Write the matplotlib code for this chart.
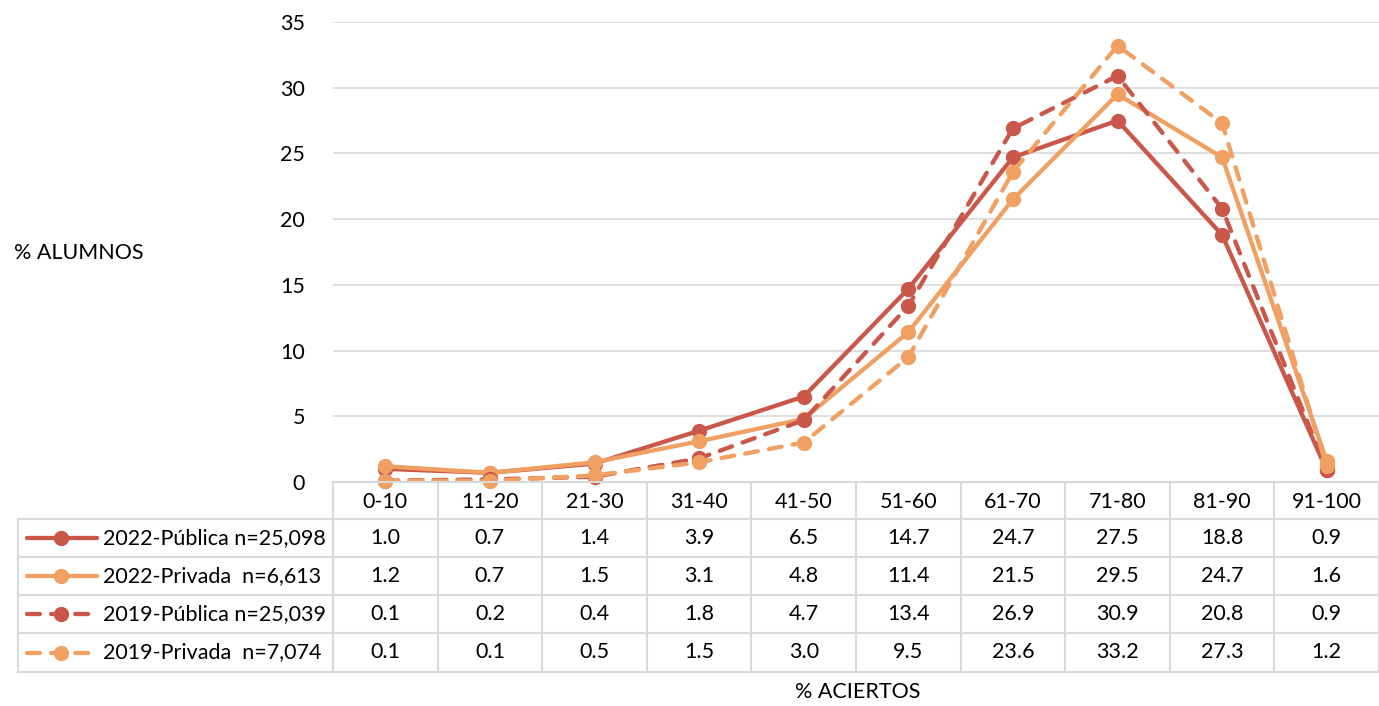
import matplotlib
matplotlib.use("Agg")
import matplotlib.pyplot as plt
from matplotlib.lines import Line2D
from matplotlib.transforms import blended_transform_factory

plt.rcParams["font.family"] = ["Lato", "DejaVu Sans"]

categorias = ["0-10", "11-20", "21-30", "31-40", "41-50",
              "51-60", "61-70", "71-80", "81-90", "91-100"]
series = [
    "2022-Pública n=25,098",
    "2022-Privada  n=6,613",
    "2019-Pública n=25,039",
    "2019-Privada  n=7,074",
]
pub_2022 = [1.0, 0.7, 1.4, 3.9, 6.5, 14.7, 24.7, 27.5, 18.8, 0.9]
priv_2022 = [1.2, 0.7, 1.5, 3.1, 4.8, 11.4, 21.5, 29.5, 24.7, 1.6]
pub_2019 = [0.1, 0.2, 0.4, 1.8, 4.7, 13.4, 26.9, 30.9, 20.8, 0.9]
priv_2019 = [0.1, 0.1, 0.5, 1.5, 3.0, 9.5, 23.6, 33.2, 27.3, 1.2]
valores = [pub_2022, priv_2022, pub_2019, priv_2019]
yticks = [0, 5, 10, 15, 20, 25, 30, 35]

ROJO = "#C9574A"
NARANJA = "#F0A062"
GRIS = "#D9D9D9"
DASH = (0, (3.0, 2.6))
estilos = [
    dict(color=ROJO, ls="-"),
    dict(color=NARANJA, ls="-"),
    dict(color=ROJO, ls=DASH),
    dict(color=NARANJA, ls=DASH),
]

W, H = 1379, 706
fig = plt.figure(figsize=(W / 100, H / 100), dpi=100)

# area de trazado en pixeles
x0, x1 = 333, 1379
y_top, y_cero = 22, 482
ax = fig.add_axes([x0 / W, 1 - y_cero / H, (x1 - x0) / W, (y_cero - y_top) / H])

fs = 15.5
xs = list(range(len(categorias)))
for vals, est in zip(valores, estilos):
    ax.plot(xs, vals, color=est["color"], ls=est["ls"], lw=3.1, marker="o",
            markersize=10, dash_capstyle="round", solid_capstyle="round",
            clip_on=False, zorder=3)

ax.set_xlim(-0.5, len(categorias) - 0.5)
ax.set_ylim(0, 35)
ax.set_yticks(yticks)
ax.set_xticks([])
ax.tick_params(axis="y", length=0, pad=20, labelsize=fs)
ax.grid(axis="y", color=GRIS, lw=1.2)
ax.set_axisbelow(True)
for s in ax.spines.values():
    s.set_visible(False)

fy = lambda py: 1 - py / H  # pixel -> coordenada de figura
fx = lambda px: px / W

# tabla de datos
filas = [482, 519, 557, 595, 633, 672]
tr = blended_transform_factory(ax.transData, fig.transFigure)
# lineas verticales entre categorias
for i in range(len(categorias) + 1):
    xb = i - 0.5
    fig.add_artist(Line2D([xb, xb], [fy(filas[0]), fy(filas[-1])],
                          transform=tr, color=GRIS, lw=1.5))
# linea horizontal superior (eje cero) y filas
fig.add_artist(Line2D([fx(x0), fx(x1)], [fy(filas[0])] * 2, color=GRIS, lw=1.5))
for py in filas[1:]:
    fig.add_artist(Line2D([fx(18), fx(x1)], [fy(py)] * 2, color=GRIS, lw=1.5))
fig.add_artist(Line2D([fx(18), fx(18)], [fy(filas[1]), fy(filas[-1])],
                      color=GRIS, lw=1.5))

# encabezados de categoria
for i, c in enumerate(categorias):
    fig.text(i, fy((filas[0] + filas[1]) / 2 + 1), c, transform=tr,
             ha="center", va="center", fontsize=fs)

# filas con leyenda y valores
for r, (nombre, vals, est) in enumerate(zip(series, valores, estilos)):
    yc = fy((filas[r + 1] + filas[r + 2]) / 2)
    fig.add_artist(Line2D([fx(27), fx(97)], [yc, yc], color=est["color"],
                          ls=est["ls"], lw=3.1, dash_capstyle="round",
                          solid_capstyle="round"))
    fig.add_artist(Line2D([fx(61)], [yc], color=est["color"], marker="o",
                          markersize=10, ls="none"))
    fig.text(fx(103), yc, nombre, ha="left", va="center", fontsize=fs)
    for i, v in enumerate(vals):
        fig.text(i, yc, f"{v:.1f}", transform=tr, ha="center", va="center",
                 fontsize=fs)

fig.text(fx(79), fy(253), "% ALUMNOS", ha="center", va="center", fontsize=fs)
fig.text(fx(858), fy(692), "% ACIERTOS", ha="center", va="center", fontsize=fs)

fig.savefig("out.png", dpi=100)
